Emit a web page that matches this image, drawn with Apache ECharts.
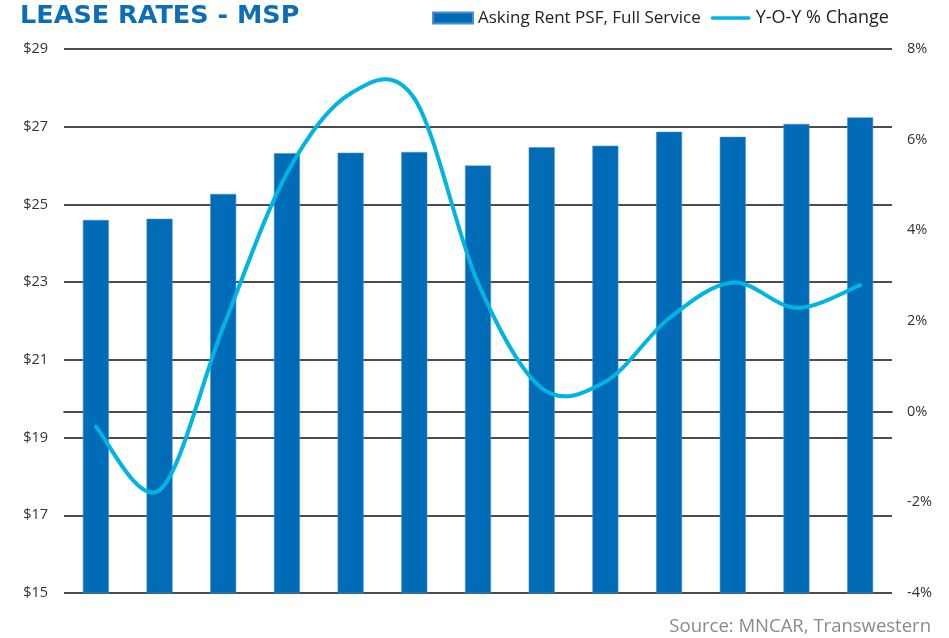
<!DOCTYPE html>
<html>
<head>
<meta charset="utf-8">
<script src="https://cdn.jsdelivr.net/npm/echarts@6/dist/echarts.min.js"></script>
<style>
html,body{margin:0;padding:0;background:#fff;}
#chart{width:949px;height:638px;}
</style>
</head>
<body>
<div id="chart"></div>
<script>
var categories = ["P1","P2","P3","P4","P5","P6","P7","P8","P9","P10","P11","P12","P13"];
var askingRent = [24.60, 24.63, 25.27, 26.32, 26.33, 26.35, 26.00, 26.47, 26.51, 26.87, 26.74, 27.07, 27.24];
var yoyChange = [-0.33, -1.73, 1.87, 5.26, 7.02, 6.91, 2.84, 0.52, 0.66, 2.06, 2.85, 2.29, 2.79];
var rentTicks = {min: 15, max: 29, interval: 2};
var pctTicks = {min: -4, max: 8, interval: 2};

var LINE_COLOR = '#00B5E2';

function renderSmoothLine(params, api) {
  if (params.dataIndex !== 0) return null;
  var pts = yoyChange.map(function (v, i) { return api.coord([i, v]); });
  var children = [];
  var n = pts.length;
  for (var i = 0; i < n - 1; i++) {
    var p0 = pts[Math.max(i - 1, 0)], p1 = pts[i], p2 = pts[i + 1], p3 = pts[Math.min(i + 2, n - 1)];
    var k = 1 / 6;
    children.push({
      type: 'bezierCurve',
      shape: {
        x1: p1[0], y1: p1[1], x2: p2[0], y2: p2[1],
        cpx1: p1[0] + (p2[0] - p0[0]) * k, cpy1: p1[1] + (p2[1] - p0[1]) * k,
        cpx2: p2[0] - (p3[0] - p1[0]) * k, cpy2: p2[1] - (p3[1] - p1[1]) * k
      },
      style: {stroke: LINE_COLOR, lineWidth: 4, fill: null, lineCap: 'round', lineJoin: 'round'}
    });
  }
  return {type: 'group', children: children};
}

var chart = echarts.init(document.getElementById('chart'), null, {renderer: 'canvas'});
chart.setOption({
  animation: false,
  backgroundColor: '#ffffff',
  title: {
    text: 'LEASE RATES - MSP',
    left: 15, top: -2,
    textStyle: {fontFamily: 'DejaVu Sans', fontWeight: 'bold', fontSize: 25.5, color: '#0D6EB8'}
  },
  legend: {
    left: 427, top: 4,
    itemWidth: 40, itemHeight: 11, itemGap: 10,
    symbolKeepAspect: true,
    textStyle: {fontFamily: 'Open Sans', fontSize: 17, color: '#222'},
    data: [
      {name: 'Asking Rent PSF, Full Service', icon: 'rect'},
      {name: 'Y-O-Y % Change', icon: 'path://M2,0 L42,0 A2,2 0 0 1 42,4 L2,4 A2,2 0 0 1 2,0 Z', itemStyle: {color: LINE_COLOR}, textStyle: {fontSize: 18}}
    ]
  },
  grid: {left: 64, right: 57, top: 49, bottom: 45, containLabel: false},
  xAxis: {
    type: 'category', data: categories,
    axisLabel: {show: false}, axisTick: {show: false},
    axisLine: {show: true, lineStyle: {color: '#111', width: 1.5}}
  },
  yAxis: [
    {
      type: 'value', min: rentTicks.min, max: rentTicks.max, interval: rentTicks.interval,
      axisLabel: {formatter: '${value}', fontFamily: 'Open Sans', fontSize: 14.5, color: '#333', margin: 16},
      axisLine: {show: false}, axisTick: {show: false},
      splitLine: {show: true, lineStyle: {color: '#111', width: 1.5}}
    },
    {
      type: 'value', min: pctTicks.min, max: pctTicks.max, interval: pctTicks.interval,
      axisLabel: {formatter: '{value}%', fontFamily: 'Open Sans', fontSize: 14.5, color: '#333', margin: 15},
      axisLine: {show: false}, axisTick: {show: false},
      splitLine: {show: false}
    }
  ],
  series: [
    {
      name: 'Asking Rent PSF, Full Service', type: 'bar', data: askingRent,
      barWidth: 26, yAxisIndex: 0,
      itemStyle: {color: '#006BB6', borderColor: '#4A90CC', borderWidth: 0.6}
    },
    {
      name: 'Y-O-Y % Change', type: 'custom', yAxisIndex: 1,
      data: yoyChange.map(function (v, i) { return [i, v]; }),
      encode: {x: 0, y: 1},
      itemStyle: {color: LINE_COLOR},
      clip: false, z: 3,
      renderItem: renderSmoothLine
    }
  ],
  graphic: [
    {
      type: 'text', right: 18, top: 617,
      style: {text: 'Source: MNCAR, Transwestern', fontFamily: 'Open Sans', fontSize: 18.5, fill: '#8a8a8a'}
    }
  ]
});
</script>
</body>
</html>
